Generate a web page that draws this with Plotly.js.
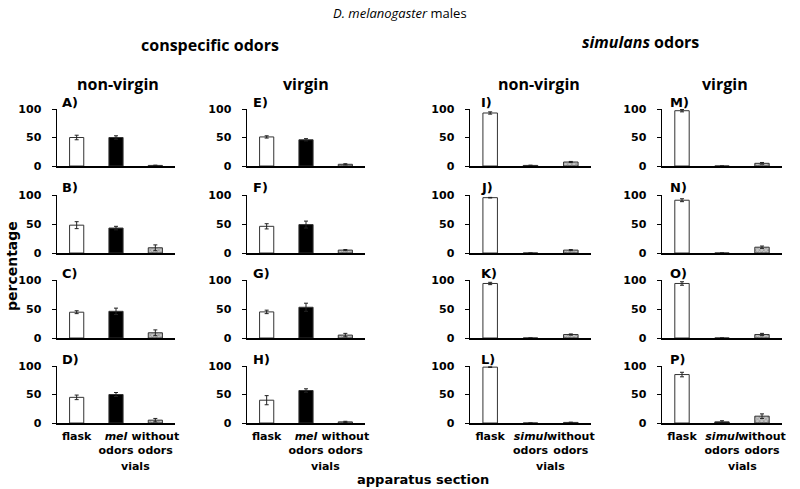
<!DOCTYPE html>
<html>
<head>
<meta charset="utf-8">
<script src="https://cdn.plot.ly/plotly-3.0.1.min.js"></script>
<style>html,body{margin:0;padding:0;background:#fff;}#chart{width:800px;height:489px;}</style>
</head>
<body>
<div id="chart"></div>
<script>
// ---- data (panels in order A..P: column by column) ----
const panelLabels = ['A)','B)','C)','D)','E)','F)','G)','H)','I)','J)','K)','L)','M)','N)','O)','P)'];
const tickLabelsMel = ['flask', '<i>mel</i><br>odors', 'without<br>odors'];
const tickLabelsSim = ['flask', '<i>simul</i><br>odors', 'without<br>odors'];
const flaskPct   = [50, 48, 44.5, 45,   51, 46, 45, 40,   93, 95.4, 94, 98,   97, 91, 94, 85];
const flaskErr   = [4, 6, 2.5, 4,       2, 4.5, 3, 8,     2, 0.5, 2, 0.5,     2, 2.5, 3, 4];
const odorPct    = [50, 43, 46, 50,     46, 49, 53, 57,   1, 0, 0, 0,         0, 0, 0, 2];
const odorErr    = [3, 3, 5.5, 3.5,     2, 6, 7, 3,       0.5, 0, 0, 0,       0, 0, 0, 2];
const withoutPct = [1, 9, 9, 5,         3, 5, 5, 2,       7, 5, 6, 1,         4.7, 10, 6, 12];
const withoutErr = [0.5, 5, 5, 3,       1, 1, 3, 1,       1, 1, 1, 0.5,       1.5, 2, 2, 4];

// ---- layout geometry ----
const W = 800, H = 489;
const colX = [[57,175],[247,365],[470,591],[662,782]];
const rowY = [[109,166],[195,253],[280,338],[366,423]];
const labelX = [60, 251, 479, 668];

const tickFont = {family: 'DejaVu Sans', size: 11, color: '#000', weight: 700};
const traces = [];
const layout = {
  width: W, height: H,
  margin: {l:0, r:0, t:0, b:0},
  paper_bgcolor: '#fff', plot_bgcolor: 'rgba(0,0,0,0)',
  showlegend: false,
  annotations: [],
  bargap: 0.64
};

for (let c = 0; c < 4; c++) {
  for (let r = 0; r < 4; r++) {
    const i = c * 4 + r;
    const n = i + 1;
    const xa = 'x' + (n === 1 ? '' : n);
    const ya = 'y' + (n === 1 ? '' : n);
    const labels = c < 2 ? tickLabelsMel : tickLabelsSim;
    const vals = [flaskPct[i], odorPct[i], withoutPct[i]];
    const errs = [flaskErr[i], odorErr[i], withoutErr[i]];
    traces.push({
      type: 'bar',
      x: labels,
      y: vals,
      xaxis: xa, yaxis: ya,
      marker: {
        color: ['#ffffff', '#000000', '#c4c4c4'],
        line: {color: '#333', width: 1},
        pattern: {shape: ['', '', 'x'], fillmode: 'overlay', fgcolor: '#555', size: 3, solidity: 0.3}
      },
      error_y: {type: 'data', array: errs,
                visible: true, color: '#222', thickness: 1, width: 2},
      hoverinfo: 'skip'
    });
    const xKey = 'xaxis' + (n === 1 ? '' : n);
    const yKey = 'yaxis' + (n === 1 ? '' : n);
    layout[xKey] = {
      domain: [colX[c][0] / W, colX[c][1] / W],
      anchor: ya,
      type: 'category',
      categoryorder: 'array', categoryarray: labels,
      range: [-0.5, 2.5],
      showline: true, linecolor: '#000', linewidth: 1.5,
      ticks: '', showgrid: false, zeroline: false,
      showticklabels: r === 3,
      tickangle: 0,
      ticklabelstandoff: 2,
      automargin: false,
      tickfont: tickFont,
      fixedrange: true
    };
    layout[yKey] = {
      domain: [1 - rowY[r][1] / H, 1 - rowY[r][0] / H],
      anchor: xa,
      range: [0, 100],
      tickvals: [0, 50, 100],
      ticks: 'outside', ticklen: 4, tickcolor: '#000', tickwidth: 1,
      showline: true, linecolor: '#000', linewidth: 1.5,
      showgrid: false, zeroline: false,
      tickfont: tickFont,
      ticklabelstandoff: 8,
      automargin: false,
      fixedrange: true
    };
    layout.annotations.push({
      text: '<b>' + panelLabels[i] + '</b>',
      xref: 'paper', yref: 'paper',
      x: labelX[c] / W, y: 1 - (rowY[r][0] - 7) / H,
      xanchor: 'left', yanchor: 'middle', showarrow: false,
      font: {family: 'DejaVu Sans', size: 13, color: '#000'}
    });
    if (r === 3) {
      layout.annotations.push({
        text: '<b>vials</b>',
        xref: xa, yref: 'paper',
        x: 1.5, y: 1 - 466 / H,
        xanchor: 'center', yanchor: 'middle', showarrow: false,
        font: {family: 'DejaVu Sans', size: 11, color: '#000'}
      });
    }
  }
}

const titleFont = {family: 'Open Sans, sans-serif', color: '#000'};
const headers = [
  {text: '<i>D. melanogaster</i> males', x: 400, y: 13, size: 13},
  {text: '<b>conspecific odors</b>', x: 210, y: 45, size: 16},
  {text: '<b><i>simulans</i> odors</b>', x: 640, y: 42, size: 16},
  {text: '<b>non-virgin</b>', x: 118, y: 84, size: 16},
  {text: '<b>virgin</b>', x: 306, y: 84, size: 16},
  {text: '<b>non-virgin</b>', x: 539, y: 84, size: 16},
  {text: '<b>virgin</b>', x: 725, y: 84, size: 16}
];
headers.forEach(h => layout.annotations.push({
  text: h.text, xref: 'paper', yref: 'paper',
  x: h.x / W, y: 1 - h.y / H, xanchor: 'center', yanchor: 'middle',
  showarrow: false, font: Object.assign({size: h.size}, titleFont)
}));
layout.annotations.push({
  text: '<b>percentage</b>', xref: 'paper', yref: 'paper',
  x: 12 / W, y: 1 - 266 / H, textangle: -90, xanchor: 'center', yanchor: 'middle',
  showarrow: false, font: {family: 'DejaVu Sans', size: 14, color: '#000'}
});
layout.annotations.push({
  text: '<b>apparatus section</b>', xref: 'paper', yref: 'paper',
  x: 423 / W, y: 1 - 479 / H, xanchor: 'center', yanchor: 'middle',
  showarrow: false, font: {family: 'DejaVu Sans', size: 13, color: '#000'}
});

Plotly.newPlot('chart', traces, layout, {staticPlot: true, displayModeBar: false});
</script>
</body>
</html>
